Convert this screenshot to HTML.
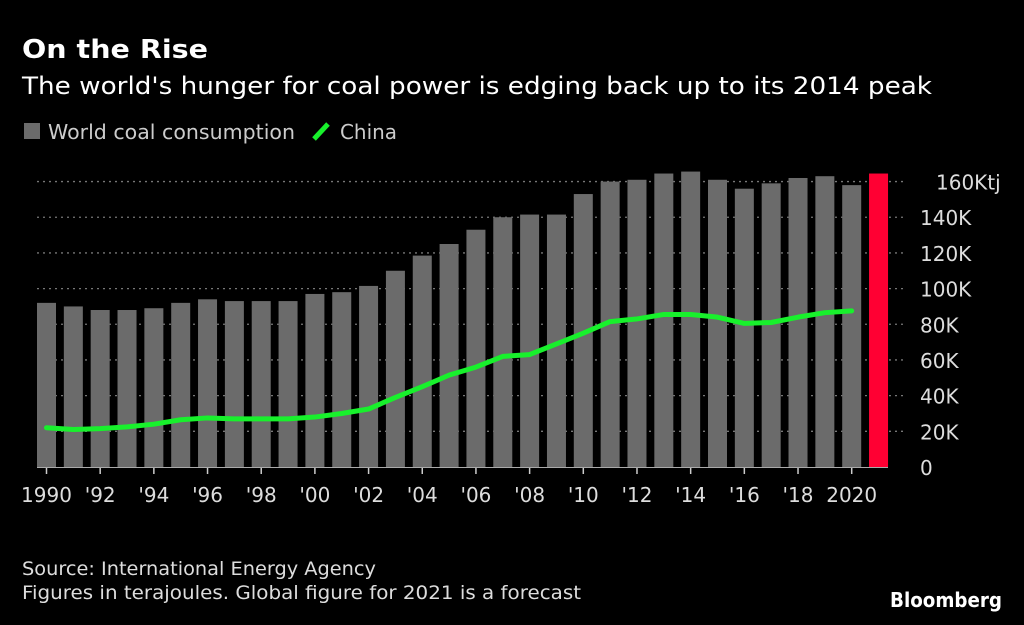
<!DOCTYPE html>
<html><head><meta charset="utf-8"><style>
body{margin:0;background:#000;width:1024px;height:621px;overflow:hidden;font-family:"DejaVu Sans","Liberation Sans",sans-serif;color:#fff}
svg text{font-family:"DejaVu Sans","Liberation Sans",sans-serif}
</style></head><body>
<svg width="1024" height="621">
<text x="22" y="58" font-size="26" font-weight="bold" fill="#fff" textLength="186" lengthAdjust="spacingAndGlyphs">On the Rise</text>
<text x="22" y="94" font-size="24" fill="#fff" textLength="910" lengthAdjust="spacingAndGlyphs">The world's hunger for coal power is edging back up to its 2014 peak</text>
<g>
<rect x="24" y="123" width="16" height="16" fill="#6b6b6b"/>
<text x="48" y="139" font-size="20" fill="#ccc" textLength="247" lengthAdjust="spacingAndGlyphs">World coal consumption</text>
<line x1="314" y1="139" x2="328" y2="124" stroke="#18f02c" stroke-width="5"/>
<text x="340" y="139" font-size="20" fill="#ccc" textLength="57" lengthAdjust="spacingAndGlyphs">China</text>
</g>
<g id="grid"></g><g id="bars"></g><g id="line"></g><g id="axes"></g>
<text x="22" y="575" font-size="19" fill="#ddd" textLength="354" lengthAdjust="spacingAndGlyphs">Source: International Energy Agency</text>
<text x="22" y="599" font-size="19" fill="#ddd" textLength="559" lengthAdjust="spacingAndGlyphs">Figures in terajoules. Global figure for 2021 is a forecast</text>
<text x="1002" y="607" font-size="20" font-weight="bold" fill="#fff" text-anchor="end" textLength="112" lengthAdjust="spacingAndGlyphs">Bloomberg</text>
</svg>
<script>
const years=[1990,1991,1992,1993,1994,1995,1996,1997,1998,1999,2000,2001,2002,2003,2004,2005,2006,2007,2008,2009,2010,2011,2012,2013,2014,2015,2016,2017,2018,2019,2020,2021];
const world=[92,90,88,88,89,92,94,93,93,93,97,98,101.5,110,118.5,125,133,140,141.5,141.5,153,160,161,164.5,165.6,161,156,159,162,163,158,164.5];
const china=[22,21,21.5,22.5,24,26.5,27.5,27,27,27,28,30,32.5,39,45,51.5,56,62,63,69,75,81.5,83,85.5,85.5,84,80.5,81,84,86.5,87.5];
const yTicks=[0,20,40,60,80,100,120,140,160];
const yTickLabels=["0","20K","40K","60K","80K","100K","120K","140K","160Ktj"];
const xLabels={1990:"1990",1992:"'92",1994:"'94",1996:"'96",1998:"'98",2000:"'00",2002:"'02",2004:"'04",2006:"'06",2008:"'08",2010:"'10",2012:"'12",2014:"'14",2016:"'16",2018:"'18",2020:"2020"};
const NS="http://www.w3.org/2000/svg";
const x=y=>46.5+(y-1990)*26.84;
const yS=v=>467-v*1.784;
function mk(tag,attrs,parent){const e=document.createElementNS(NS,tag);for(const k in attrs)e.setAttribute(k,attrs[k]);document.getElementById(parent).appendChild(e);return e;}
yTicks.forEach((t,i)=>{
 if(t>0){const g=mk('line',{x1:37,x2:906,y1:yS(t),y2:yS(t),stroke:'#777','stroke-width':1.3,'stroke-dasharray':'2 4'},'grid');
 
 }
 const l=mk('text',{x:i==8?936:920,y:yS(t)+8,'font-size':20,fill:'#ddd'},'axes');l.textContent=yTickLabels[i];
 
 
});
years.forEach((yr,i)=>{
 const b=mk('rect',{x:x(yr)-9.5,y:yS(world[i]),width:19,height:world[i]*1.784,fill:yr==2021?'#ff0033':'#6b6b6b'},'bars');
 
 
 if(xLabels[yr]){
  const t=mk('line',{x1:x(yr),x2:x(yr),y1:467,y2:474,stroke:'#ccc','stroke-width':1.5},'axes');
  
  
  const l=mk('text',{x:x(yr),y:502,'font-size':20,fill:'#ddd','text-anchor':'middle'},'axes');l.textContent=xLabels[yr];
  
  
 }
});
const ax=mk('line',{x1:37,x2:888,y1:467.5,y2:467.5,stroke:'#aaa','stroke-width':1},'axes');


const p=mk('polyline',{points:china.map((v,i)=>x(years[i])+','+yS(v)).join(' '),fill:'none',stroke:'#18f02c','stroke-width':5,'stroke-linejoin':'round','stroke-linecap':'round'},'line');


</script>
</body></html>
